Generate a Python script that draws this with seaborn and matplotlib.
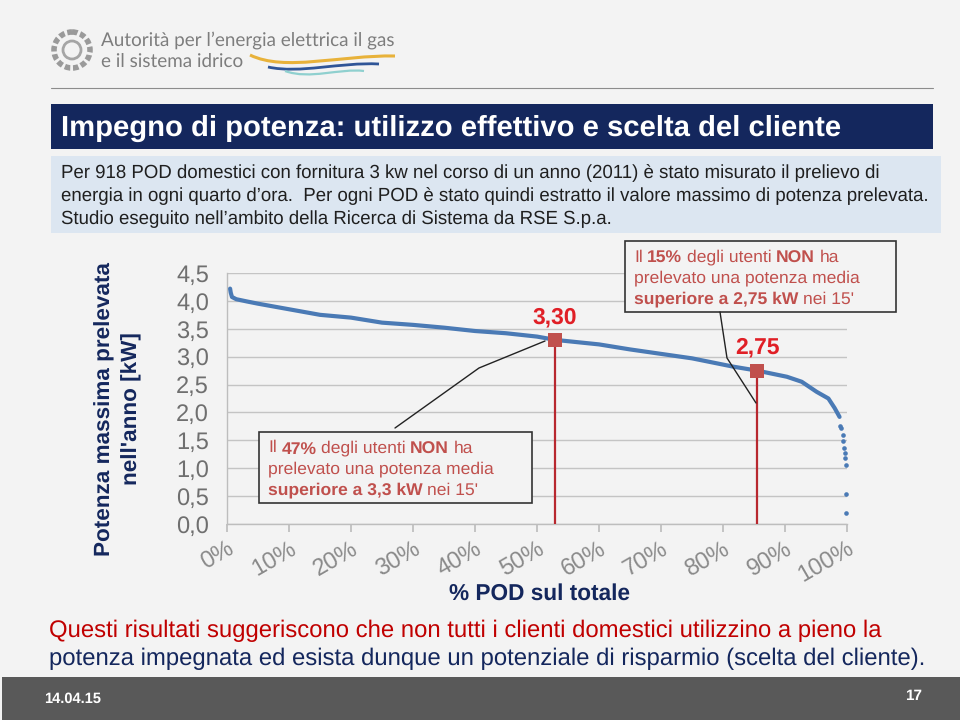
import numpy as np
import pandas as pd
import seaborn as sns
import matplotlib.pyplot as plt
from matplotlib.patches import Rectangle, Circle, PathPatch
from matplotlib.path import Path

# curve
pod_pct = [0.5, 0.6, 0.8, 1.5, 3.2, 5, 10, 15, 20, 25, 30, 35, 40, 45, 50, 53,
           60, 65, 70, 75, 81.7, 85.5, 90.3, 92.7, 95.1, 97, 98, 98.8]
potenza = [4.22, 4.15, 4.07, 4.03, 3.99, 3.95, 3.85, 3.75, 3.7, 3.61, 3.57, 3.52,
           3.46, 3.42, 3.36, 3.30, 3.22, 3.13, 3.05, 2.97, 2.82, 2.75, 2.64, 2.55,
           2.37, 2.25, 2.08, 1.92]
dots_pct = [98.9, 99.0, 99.3, 99.4, 99.5, 99.6, 99.7, 99.8, 99.8, 99.9]
dots_kw = [1.76, 1.72, 1.6, 1.49, 1.36, 1.27, 1.18, 1.06, 0.53, 0.2]
soglia_pct = [52.9, 85.5]
soglia_kw = [3.30, 2.75]
soglia_lab = ["3,30", "2,75"]
y_ticks = [0, 0.5, 1, 1.5, 2, 2.5, 3, 3.5, 4, 4.5]
y_labels = ["0,0", "0,5", "1,0", "1,5", "2,0", "2,5", "3,0", "3,5", "4,0", "4,5"]
x_ticks = [0, 10, 20, 30, 40, 50, 60, 70, 80, 90, 100]
x_labels = ["0%", "10%", "20%", "30%", "40%", "50%", "60%", "70%", "80%", "90%", "100%"]

sns.set_theme(style="white")
plt.rcParams['font.family'] = ['Liberation Sans', 'DejaVu Sans']
plt.rcParams['text.hinting'] = 'none'

BG = "#f3f3f3"
NAVY = "#14275d"
BLU = "#4a7ab5"
ROSSO = "#c0504d"

fig = plt.figure(figsize=(9.6, 7.2), dpi=100, facecolor=BG)

# page layer in pixel coords
pg = fig.add_axes([0, 0, 1, 1], zorder=0)
pg.set_xlim(0, 960)
pg.set_ylim(720, 0)
pg.axis("off")

pg.add_patch(Rectangle((51, 104), 882, 45, color=NAVY, lw=0))
pg.add_patch(Rectangle((51, 156), 890, 77, color="#dce6f1", lw=0))
pg.add_patch(Rectangle((2, 677), 958, 43, color="#595959", lw=0))
pg.plot([51, 933], [88, 88], color="#8c8c8c", lw=0.8)

# logo
pg.add_patch(Circle((72, 50), 18, fill=False, ec="#9a9a9a", lw=4, ls=(0, (1, 0.5))))
pg.add_patch(Circle((72, 50), 9, fill=False, ec="#a5a5a5", lw=2))
pg.text(101, 40, "Autorità per l’energia elettrica il gas", fontsize=13.6, color="#7d7d7d", va="center", family="Lato")
pg.text(101, 61, "e il sistema idrico", fontsize=13.6, color="#7d7d7d", va="center", family="Lato")
curva = [Path.MOVETO, Path.CURVE4, Path.CURVE4, Path.CURVE4]
pg.add_patch(PathPatch(Path([(250, 55), (285, 72), (340, 55), (395, 56)], curva), fc="none", ec="#e8b23a", lw=2.2))
pg.add_patch(PathPatch(Path([(268, 67), (300, 74), (340, 62), (379, 64)], curva), fc="none", ec="#2f5597", lw=2))
pg.add_patch(PathPatch(Path([(285, 71), (310, 80), (340, 68), (364, 71)], curva), fc="none", ec="#8fd0cf", lw=1.6))

pg.text(61, 128.5, "Impegno di potenza: utilizzo effettivo e scelta del cliente", color="white",
        fontsize=21.1, fontweight="bold", va="center")

intro = ["Per 918 POD domestici con fornitura 3 kw nel corso di un anno (2011) è stato misurato il prelievo di",
         "energia in ogni quarto d’ora.  Per ogni POD è stato quindi estratto il valore massimo di potenza prelevata.",
         "Studio eseguito nell’ambito della Ricerca di Sistema da RSE S.p.a."]
for i, riga in enumerate(intro):
    pg.text(61, 173 + i * 23, riga, color="#1f1f1f", fontsize=13.38, va="center")

pg.text(49, 631, "Questi risultati suggeriscono che non tutti i clienti domestici utilizzino a pieno la",
        color="#c00000", fontsize=17.2, va="center")
pg.text(49, 659, "potenza impegnata ed esista dunque un potenziale di risparmio (scelta del cliente).",
        color=NAVY, fontsize=17.2, va="center")
pg.text(44, 699, "14.04.15", color="white", fontsize=10.5, fontweight="bold", va="center")
pg.text(914, 696, "17", color="white", fontsize=11, fontweight="bold", va="center", ha="center")

# chart
ax = fig.add_axes([227 / 960, 1 - 524 / 720, 620 / 960, 251 / 720], zorder=1)
ax.patch.set_alpha(0)
curve = pd.DataFrame({"pct": pod_pct, "kw": potenza})
tail = pd.DataFrame({"pct": dots_pct, "kw": dots_kw})
sns.lineplot(data=curve, x="pct", y="kw", ax=ax, color=BLU, lw=3.0, zorder=3, clip_on=False)
sns.scatterplot(data=tail, x="pct", y="kw", ax=ax, color=BLU, s=11, linewidth=0, zorder=3, clip_on=False)

ax.set_xlim(0, 100)
ax.set_ylim(0, 4.5)
ax.set_xlabel("")
ax.set_ylabel("")
ax.set_yticks(y_ticks)
ax.set_yticklabels(y_labels, fontsize=17, color="#6f6f6f")
ax.set_xticks(x_ticks)
ax.set_xticklabels(x_labels, fontsize=17, color="#8a8a8a", rotation=30, ha="right", rotation_mode="anchor")
ax.tick_params(axis="x", length=6, color="#bdbdbd", bottom=True, pad=4)
ax.tick_params(axis="y", length=0, pad=13)
ax.yaxis.grid(True, color="#c4c4c4", lw=1)
ax.set_axisbelow(True)
for s in ["top", "right"]:
    ax.spines[s].set_visible(False)
for s in ["left", "bottom"]:
    ax.spines[s].set_color("#bdbdbd")
    ax.spines[s].set_linewidth(1)

ax.vlines(soglia_pct, 0, soglia_kw, color="#b8282f", lw=1.6, zorder=4)
sns.scatterplot(x=soglia_pct, y=soglia_kw, ax=ax, marker="s", s=90, color=ROSSO, linewidth=0, zorder=5)
for p, k, lab in zip(soglia_pct, soglia_kw, soglia_lab):
    ax.annotate(lab, (p, k), xytext=(0, 16.5), textcoords="offset points", ha="center", va="center",
                color="#e01f26", fontsize=16.5, fontweight="bold")

# top layer: callouts
top = fig.add_axes([0, 0, 1, 1], zorder=2)
top.set_xlim(0, 960)
top.set_ylim(720, 0)
top.axis("off")
top.patch.set_alpha(0)

top.plot([395, 479, 545], [428, 368, 341], color="#222222", lw=1)
top.plot([720, 727, 756], [312, 358, 403], color="#222222", lw=1)


def callout(x, y, w, h, righe):
    top.add_patch(Rectangle((x, y), w, h, fc=BG, ec="#333333", lw=1.2))
    for i, pezzi in enumerate(righe):
        cx = x + 9
        for testo, grassetto, dy in pezzi:
            t = top.text(cx, y + 20.5 + i * 20.8 + dy, testo, fontsize=12.6, va="baseline", color=ROSSO,
                         fontweight="bold" if grassetto else "normal")
            fig.canvas.draw()
            cx += t.get_window_extent().width + 4.5


# dy: glyph bitmaps snap to whole pixels, this keeps bold and regular on one baseline
callout(259, 432, 273, 71, [[("Il", 0, 0), ("47%", 1, 1), ("degli utenti", 0, 0), ("NON", 1, 1), ("ha", 0, 0)],
                            [("prelevato una potenza media", 0, 0)],
                            [("superiore a 3,3 kW", 1, 0), ("nei 15'", 0, 1)]])
callout(625, 241, 271, 71, [[("Il", 0, 0), ("15%", 1, 1), ("degli utenti", 0, 0), ("NON", 1, 1), ("ha", 0, 0)],
                            [("prelevato una potenza media", 0, 0)],
                            [("superiore a 2,75 kW", 1, 0), ("nei 15'", 0, 1)]])

top.text(105, 409, "Potenza massima prelevata", rotation=90, color=NAVY, fontsize=16.2, fontweight="bold",
         ha="center", va="center")
top.text(132, 409, "nell'anno [kW]", rotation=90, color=NAVY, fontsize=16.2, fontweight="bold",
         ha="center", va="center")
top.text(540, 594, "% POD sul totale", color=NAVY, fontsize=16.3, fontweight="bold", ha="center", va="center")

fig.savefig("out.png", dpi=100, facecolor=BG)
